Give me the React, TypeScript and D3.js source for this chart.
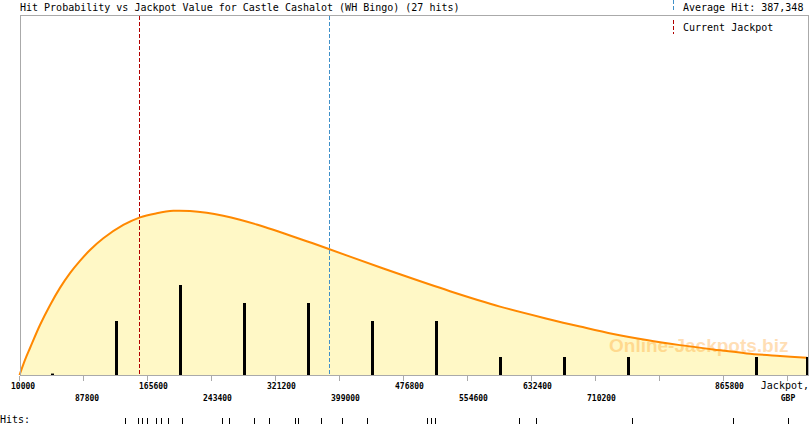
import React from "react";
import * as d3 from "d3";

const title = "Hit Probability vs Jackpot Value for Castle Cashalot (WH Bingo) (27 hits)";
const averageHit = 387348;
const currentJackpot = 155900;
const axisStart = 10000;
const axisEnd = 967300;
const binWidth = 77800;

const tickValues = [10000, 87800, 165600, 243400, 321200, 399000, 476800, 554600, 632400, 710200, 788000, 865800, 943600];
const tickLabels = ["10000", "87800", "165600", "243400", "321200", "399000", "476800", "554600", "632400", "710200", "", "865800", ""];

const binStarts = [10000, 87800, 165600, 243400, 321200, 399000, 476800, 554600, 632400, 710200, 788000, 865800, 943600];
const binCounts = [0.08, 3, 5, 4, 4, 3, 3, 1, 1, 1, 0, 1, 1];

const hitValues = [
  138900, 154700, 159500, 166200, 176500, 182600, 191100, 208100, 256800,
  265300, 295700, 313900, 345500, 345500, 349200, 377100, 402600, 402600,
  433000, 506000, 510800, 515700, 617800, 638500, 755200, 878000, 944800,
];

const curveValues = [
  10000, 13000, 16700, 22800, 34900, 47100, 59200, 71400, 83500, 95700,
  111900, 136200, 156500, 176800, 197000, 217300, 237600, 257700, 278000,
  298300, 318500, 338800, 359100, 379300, 411800, 472500, 533300, 594100,
  654900, 691400, 731800, 772400, 812900, 853400, 894000, 934500, 967300,
];
const curveDensity = [
  0, 0.019, 0.042, 0.075, 0.139, 0.194, 0.242, 0.283, 0.317, 0.347,
  0.3797, 0.4167, 0.438, 0.4492, 0.456, 0.4556, 0.4508, 0.4425, 0.4314,
  0.4181, 0.4033, 0.3875, 0.3717, 0.3556, 0.3289, 0.2797, 0.2328, 0.19,
  0.1544, 0.1347, 0.114, 0.097, 0.083, 0.071, 0.06, 0.053, 0.048,
];

const W = 810;
const H = 425;
const MONO = "'DejaVu Sans Mono', 'Liberation Mono', monospace";

export default function App() {
  const x = d3.scaleLinear().domain([axisStart, axisEnd]).range([19.5, 807]);
  const yCount = d3.scaleLinear().domain([0, 20]).range([375, 15]);
  const yDens = d3.scaleLinear().domain([0, 1]).range([375, 15]);
  const px = (v: number) => Math.floor(v) + 0.5;

  const pts = curveValues.map((v, i) => [v, curveDensity[i]] as [number, number]);
  const area = d3
    .area<[number, number]>()
    .x((d) => x(d[0]))
    .y0(yDens(0))
    .y1((d) => yDens(d[1]))
    .curve(d3.curveCatmullRom.alpha(0.5));
  const line = d3
    .line<[number, number]>()
    .x((d) => x(d[0]))
    .y((d) => yDens(d[1]))
    .curve(d3.curveCatmullRom.alpha(0.5));

  const fmt = d3.format(",");

  // alternate rows among shown labels
  let shown = 0;
  const labelRows = tickLabels.map((l) => {
    if (!l) return -1;
    const r = shown % 2;
    shown++;
    return r;
  });
  const rowY = [388.5, 401];

  const xAvg = px(x(averageHit));
  const xCur = px(x(currentJackpot));

  return (
    <svg
      width={W}
      height={H}
      style={{ position: "absolute", left: 0, top: 0, background: "#fff" }}
    >
      <rect x={0} y={0} width={W} height={H} fill="#fff" />
      <path d={area(pts) || ""} fill="#fff8c6" />
      <text
        x={609}
        y={352}
        fontFamily="'Liberation Sans', Arial, sans-serif"
        fontWeight="bold"
        fontSize={19}
        fill="#ff9a1a"
        opacity={0.32}
      >
        Online-Jackpots.biz
      </text>

      <line x1={xCur} x2={xCur} y1={16} y2={375} stroke="#b00000" strokeDasharray="4,2" />
      <line x1={xAvg} x2={xAvg} y1={16} y2={375} stroke="#4090c8" strokeDasharray="4,2" />

      <path d={line(pts) || ""} fill="none" stroke="#ff8800" strokeWidth={2} />

      {binStarts.map((b, i) => {
        const c = binCounts[i];
        if (c <= 0) return null;
        const cx = Math.min(x(b + binWidth / 2), 806);
        const y0 = yCount(c);
        return (
          <rect
            key={i}
            x={Math.floor(cx)}
            y={y0}
            width={3}
            height={yCount(0) - y0}
            fill="#000"
          />
        );
      })}

      <g stroke="#aaaaaa" strokeWidth={1} shapeRendering="crispEdges">
        <line x1={20} x2={809} y1={15.5} y2={15.5} />
        <line x1={20.5} x2={20.5} y1={15} y2={376} />
        <line x1={808.5} x2={808.5} y1={15} y2={376} />
        <line x1={20} x2={809} y1={375.5} y2={375.5} />
        {tickValues.map((v, i) => (
          <line key={i} x1={px(x(v))} x2={px(x(v))} y1={376} y2={381} />
        ))}
      </g>

      {tickValues.map((v, i) =>
        labelRows[i] < 0 ? null : (
          <text
            key={i}
            x={Math.max(x(v) - 8.5, 11)}
            y={rowY[labelRows[i]]}
            fontFamily={MONO}
            fontWeight="bold"
            fontSize={8}
            fill="#000"
          >
            {tickLabels[i]}
          </text>
        )
      )}
      <text x={809} y={rowY[0]} textAnchor="end" fontFamily={MONO} fontSize={10} fill="#000">
        Jackpot,
      </text>
      <text x={788} y={rowY[1]} textAnchor="middle" fontFamily={MONO} fontWeight="bold" fontSize={8} fill="#000">
        GBP
      </text>

      <text x={0} y={423} fontFamily={MONO} fontSize={10} fill="#000">
        Hits:
      </text>
      <g stroke="#000" strokeWidth={1} shapeRendering="crispEdges">
        {hitValues.map((v, i) => (
          <line key={i} x1={px(x(v))} x2={px(x(v))} y1={418} y2={424} />
        ))}
      </g>

      <text x={20} y={11} fontFamily={MONO} fontSize={10} fill="#000">
        {title}
      </text>

      <line x1={673.5} x2={673.5} y1={0} y2={12} stroke="#4090c8" strokeDasharray="4,2" />
      <line x1={673.5} x2={673.5} y1={20} y2={34} stroke="#b00000" strokeDasharray="4,2" />
      <text x={683} y={11} fontFamily={MONO} fontSize={10} fill="#000">
        {`Average Hit: ${fmt(averageHit)}`}
      </text>
      <text x={683} y={31} fontFamily={MONO} fontSize={10} fill="#000">
        Current Jackpot
      </text>
    </svg>
  );
}
